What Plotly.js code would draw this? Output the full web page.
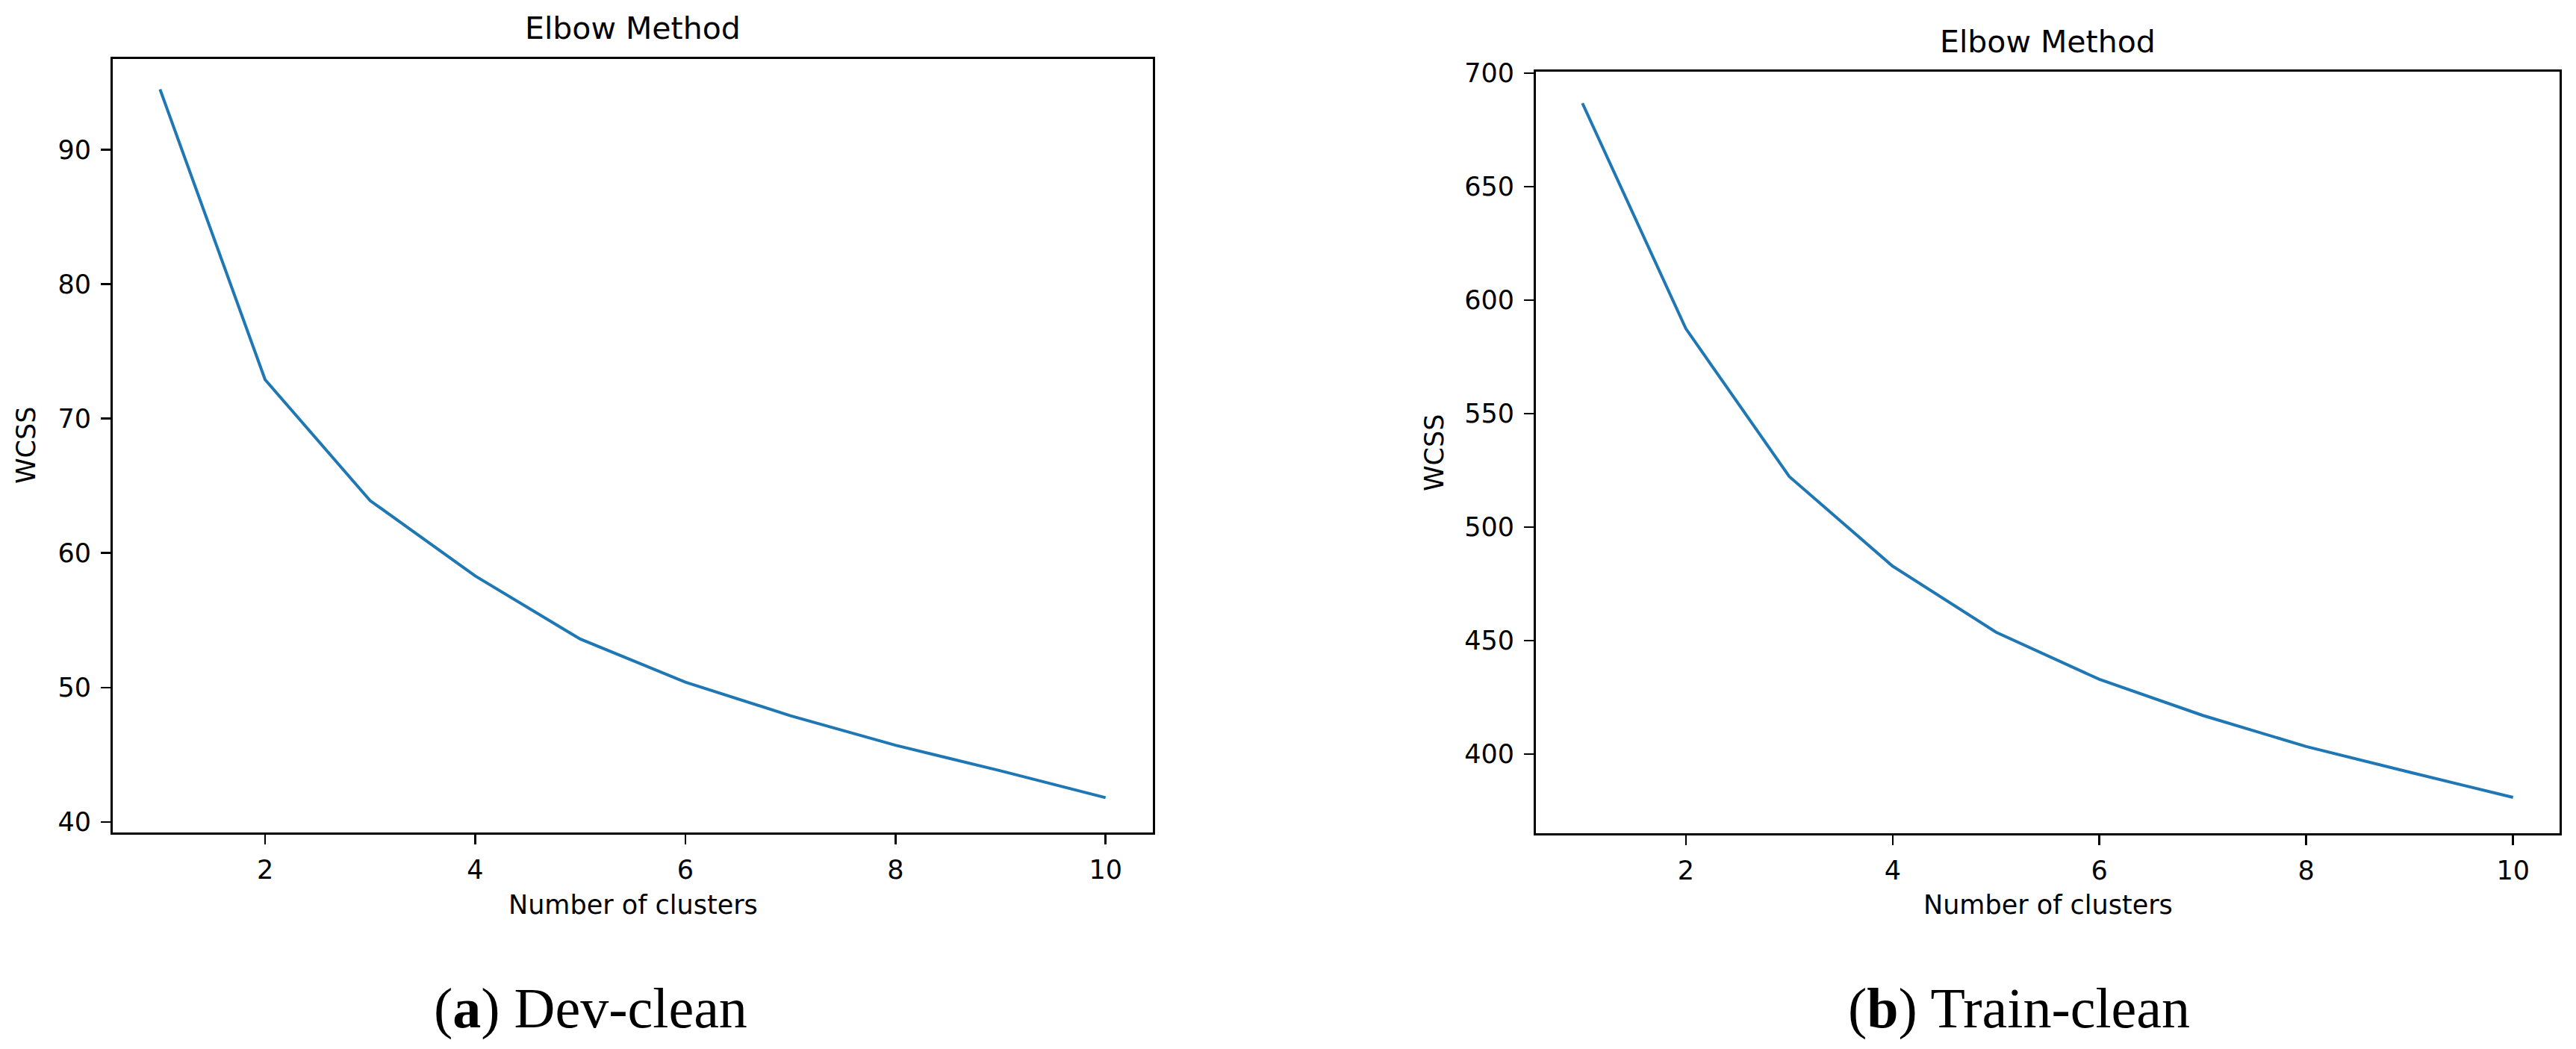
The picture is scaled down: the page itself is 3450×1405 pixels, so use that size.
<!DOCTYPE html>
<html>
<head>
<meta charset="utf-8">
<script src="https://cdn.plot.ly/plotly-3.0.1.min.js"></script>
<style>html,body{margin:0;padding:0;background:#fff;}#chart{width:3450px;height:1405px;}</style>
</head>
<body>
<div id="chart"></div>
<script>
// ---- data ----
const clusters = [1, 2, 3, 4, 5, 6, 7, 8, 9, 10];
const wcssDevClean = [94.5, 72.9, 63.9, 58.3, 53.6, 50.4, 47.9, 45.7, 43.8, 41.8];
const wcssTrainClean = [686.8, 587.5, 522.3, 482.8, 453.7, 432.9, 417.0, 403.3, 392.0, 380.9];
const xTickVals = [2, 4, 6, 8, 10];
const yTickValsDev = [40, 50, 60, 70, 80, 90];
const yTickValsTrain = [400, 450, 500, 550, 600, 650, 700];
const plotTitle = "Elbow Method";
const xLabel = "Number of clusters";
const yLabel = "WCSS";
const captionA = "(<b>a</b>) Dev-clean";
const captionB = "(<b>b</b>) Train-clean";

// ---- layout helpers ----
const W = 3450, H = 1405;
const px = v => v / W;
const py = v => 1 - v / H;
const sans = "DejaVu Sans, Verdana, sans-serif";
const serif = "Liberation Serif, Times New Roman, serif";
const lineColor = "#1f77b4";

const axisCommon = {
  showgrid: false, zeroline: false, showline: true, mirror: true,
  linecolor: "#000", linewidth: 3,
  ticks: "outside", ticklen: 13, tickwidth: 2.5, tickcolor: "#000",
  tickfont: {family: sans, size: 35, color: "#000"},
  fixedrange: true
};

const traces = [
  {x: clusters, y: wcssDevClean, type: "scatter", mode: "lines",
   line: {color: lineColor, width: 4}, xaxis: "x", yaxis: "y", hoverinfo: "skip"},
  {x: clusters, y: wcssTrainClean, type: "scatter", mode: "lines",
   line: {color: lineColor, width: 4}, xaxis: "x2", yaxis: "y2", hoverinfo: "skip"}
];

const L = {x0: 151, x1: 1544, y0: 79, y1: 1115};
const R = {x0: 2057, x1: 3428, y0: 96, y1: 1116};

const layout = {
  width: W, height: H,
  margin: {l: 0, r: 0, t: 0, b: 0},
  paper_bgcolor: "#fff", plot_bgcolor: "#fff",
  showlegend: false,
  xaxis: Object.assign({}, axisCommon, {
    domain: [px(L.x0), px(L.x1)], range: [0.55, 10.45],
    tickvals: xTickVals, anchor: "y", ticklabelstandoff: 4
  }),
  yaxis: Object.assign({}, axisCommon, {
    domain: [py(L.y1), py(L.y0)], range: [39.21, 96.76],
    tickvals: yTickValsDev, anchor: "x", ticklabelstandoff: 6
  }),
  xaxis2: Object.assign({}, axisCommon, {
    domain: [px(R.x0), px(R.x1)], range: [0.55, 10.45],
    tickvals: xTickVals, anchor: "y2", ticklabelstandoff: 4
  }),
  yaxis2: Object.assign({}, axisCommon, {
    domain: [py(R.y1), py(R.y0)], range: [365.1, 700.7],
    tickvals: yTickValsTrain, anchor: "x2", ticklabelstandoff: 6
  }),
  annotations: [
    // titles
    {text: plotTitle, xref: "paper", yref: "paper", x: px((L.x0 + L.x1) / 2), y: py(38),
     xanchor: "center", yanchor: "middle", showarrow: false, font: {family: sans, size: 41, color: "#000"}},
    {text: plotTitle, xref: "paper", yref: "paper", x: px((R.x0 + R.x1) / 2), y: py(56),
     xanchor: "center", yanchor: "middle", showarrow: false, font: {family: sans, size: 41, color: "#000"}},
    // x-axis titles
    {text: xLabel, xref: "paper", yref: "paper", x: px((L.x0 + L.x1) / 2), y: py(1212),
     xanchor: "center", yanchor: "middle", showarrow: false, font: {family: sans, size: 35, color: "#000"}},
    {text: xLabel, xref: "paper", yref: "paper", x: px((R.x0 + R.x1) / 2), y: py(1212),
     xanchor: "center", yanchor: "middle", showarrow: false, font: {family: sans, size: 35, color: "#000"}},
    // y-axis titles
    {text: yLabel, xref: "paper", yref: "paper", x: px(35), y: py((L.y0 + L.y1) / 2), textangle: -90,
     xanchor: "center", yanchor: "middle", showarrow: false, font: {family: sans, size: 35, color: "#000"}},
    {text: yLabel, xref: "paper", yref: "paper", x: px(1921), y: py((R.y0 + R.y1) / 2), textangle: -90,
     xanchor: "center", yanchor: "middle", showarrow: false, font: {family: sans, size: 35, color: "#000"}},
    // captions
    {text: captionA, xref: "paper", yref: "paper", x: px(791), y: py(1350),
     xanchor: "center", yanchor: "middle", showarrow: false, font: {family: serif, size: 76, color: "#000"}},
    {text: captionB, xref: "paper", yref: "paper", x: px(2704), y: py(1350),
     xanchor: "center", yanchor: "middle", showarrow: false, font: {family: serif, size: 76, color: "#000"}}
  ]
};

Plotly.newPlot("chart", traces, layout, {staticPlot: true, displayModeBar: false});
</script>
</body>
</html>
